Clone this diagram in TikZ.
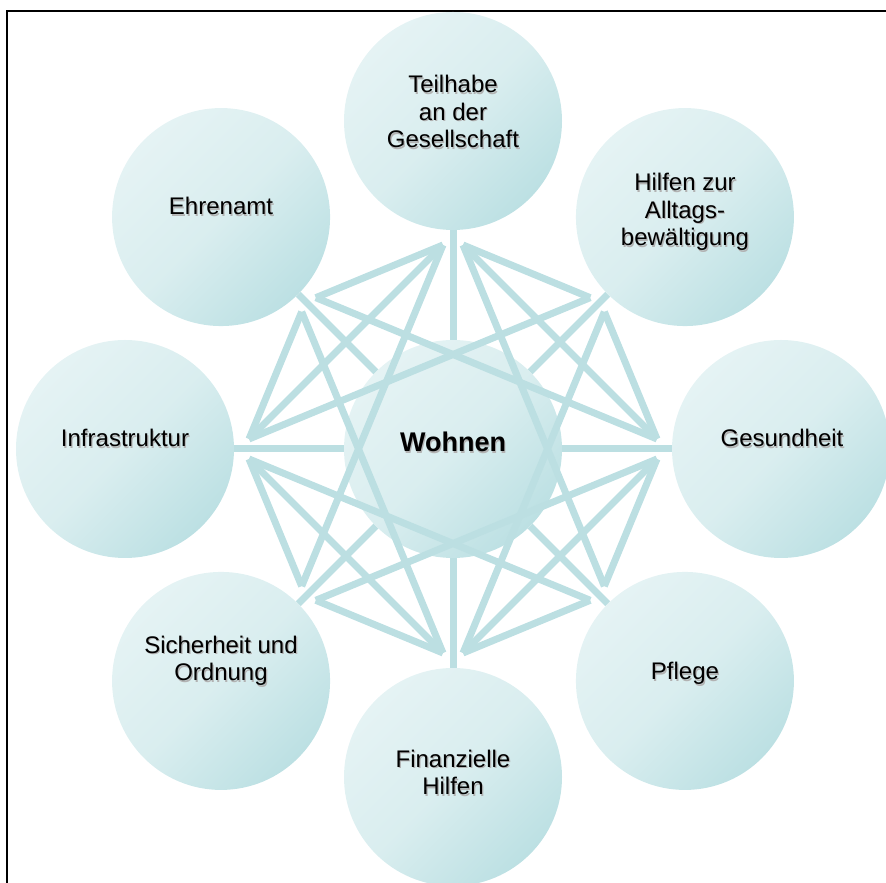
\documentclass[tikz,border=0pt]{standalone}
\usepackage{fontspec}
\setmainfont{Liberation Sans}
\usetikzlibrary{calc}
\definecolor{cLight}{RGB}{229,243,244}
\definecolor{cDark}{RGB}{188,224,227}
\definecolor{cLine}{RGB}{188,223,226}
\newcommand\shtxt[1]{\leavevmode\rlap{\kern1.2pt\raisebox{-1.2pt}{\color{black!30}#1}}#1}
\tikzset{
  bubble/.style={circle, draw=none, inner sep=0pt, minimum size=218pt,
    top color=cLight, bottom color=cDark, middle color=cLight!72!cDark, shading angle=45},
  edge/.style={draw=cLine, line width=7pt, line cap=butt},
  lbl/.style={align=center, anchor=base, inner sep=0pt,
    font=\fontsize{24}{27.5}\selectfont, text=black},
}
\begin{document}
\begin{tikzpicture}[x=1pt,y=1pt]
\useasboundingbox (0,0) rectangle (886,883);
\clip (0,0) rectangle (886,883);
\coordinate (C) at (453,434);
% frame
\draw[line width=2pt, black] (7,-5) -- (7,872) -- (891,872);
% centre bubble
\node[bubble] (w) at (C) {};
% outer bubbles, n0 at 0 deg, counter-clockwise
\foreach \k in {0,...,7}{
  \pgfmathsetmacro{\ang}{45*\k}
  \node[bubble] (n\k) at ($(C)+(\ang:328)$) {};
  \coordinate (p\k) at ($(C)+(\ang:204)+(\ang+90:10)$);
  \coordinate (m\k) at ($(C)+(\ang:204)+(\ang-90:10)$);
}
% spokes
\foreach \k in {0,...,7}{
  \draw[edge] (n\k) -- (w);
}
% cross connections: neighbours and 135-degree partners
\foreach \i in {0,...,7}{
  \foreach \d in {1,3}{
    \pgfmathtruncatemacro{\j}{mod(\i+\d,8)}
    \draw[edge] (p\i) -- (m\j);
  }
}
% the diamond between the axis bubbles
\foreach \i in {0,2,4,6}{
  \pgfmathtruncatemacro{\j}{mod(\i+2,8)}
  \draw[edge] (p\i) -- (m\j);
}
% labels
\node[lbl, font=\fontsize{27}{30}\selectfont\bfseries] (tw) at (453,431) {\shtxt{Wohnen}};
\node[lbl] (t0) at (782,436) {\shtxt{Gesundheit}};
\node[lbl] (t1) at (685,637) {\shtxt{Hilfen zur}\\\shtxt{Alltags-}\\\shtxt{bewältigung}};
\node[lbl] (t2) at (453,735) {\shtxt{Teilhabe}\\\shtxt{an der}\\\shtxt{Gesellschaft}};
\node[lbl] (t3) at (221,668) {\shtxt{Ehrenamt}};
\node[lbl] (t4) at (125,436) {\shtxt{Infrastruktur}};
\node[lbl] (t5) at (221,202) {\shtxt{Sicherheit und}\\\shtxt{Ordnung}};
\node[lbl] (t6) at (453,88) {\shtxt{Finanzielle}\\\shtxt{Hilfen}};
\node[lbl] (t7) at (685,203) {\shtxt{Pflege}};
\end{tikzpicture}
\end{document}
